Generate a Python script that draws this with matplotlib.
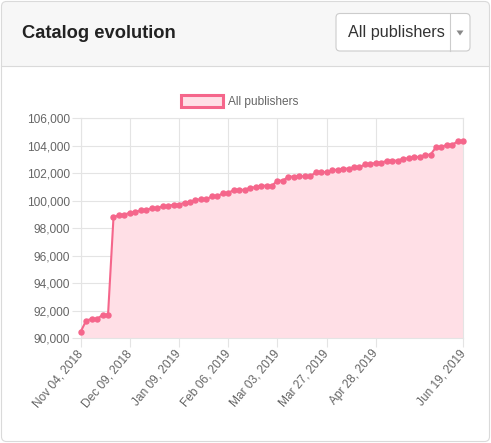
import numpy as np
import matplotlib
matplotlib.use('Agg')
import matplotlib.pyplot as plt
from matplotlib.patches import FancyBboxPatch, Rectangle, Patch, Polygon
from matplotlib.ticker import FuncFormatter

plt.rcParams['font.family'] = ['Liberation Sans', 'DejaVu Sans']

# ─── Data ───
values = [
    90480, 91290, 91410, 91410, 91700, 91700, 98800, 98970, 98990, 99140,
    99160, 99330, 99360, 99450, 99480, 99600, 99620, 99720, 99720, 99870,
    99910, 100080, 100110, 100110, 100330, 100330, 100550, 100570, 100790, 100810,
    100790, 100960, 100980, 101100, 101100, 101100, 101470, 101470, 101760, 101760,
    101780, 101780, 101780, 102070, 102070, 102100, 102220, 102270, 102340, 102340,
    102440, 102440, 102650, 102650, 102780, 102780, 102900, 102920, 102920, 103070,
    103090, 103190, 103190, 103330, 103360, 103890, 103910, 104080, 104080, 104330,
    104350,
]
tick_idx = [0, 9, 18, 27, 36, 45, 54, 70]
tick_labels = ['Nov 04, 2018', 'Dec 09, 2018', 'Jan 09, 2019', 'Feb 06, 2019',
               'Mar 03, 2019', 'Mar 27, 2019', 'Apr 28, 2019', 'Jun 19, 2019']
y_ticks = list(range(90000, 106001, 2000))
series_name = 'All publishers'

colors = {
    'line': '#f5668b', 'fill': '#ffdfe6', 'grid': '#e4e4e4',
    'tick': '#666666', 'header': '#f7f7f7', 'border': '#dadada',
    'title': '#222222', 'text': '#333333',
}

W, H = 491, 443
fig = plt.figure(figsize=(W / 100, H / 100), dpi=100)
fig.patch.set_facecolor('white')

# ─── Card chrome (pixel coordinates) ───
chrome = fig.add_axes([0, 0, 1, 1], zorder=0)
chrome.set_xlim(0, W)
chrome.set_ylim(H, 0)
chrome.axis('off')

chrome.add_patch(FancyBboxPatch((1.5, 1.5), W - 3, H - 3,
                                boxstyle='round,pad=0,rounding_size=5',
                                fc='white', ec='none'))
chrome.add_patch(FancyBboxPatch((1.5, 1.5), W - 3, 75,
                                boxstyle='round,pad=0,rounding_size=5',
                                fc=colors['header'], ec='none'))
chrome.add_patch(Rectangle((1.5, 65.5), W - 3, 20, fc='white', ec='none'))
chrome.plot([1.5, W - 1.5], [65.5, 65.5], color=colors['border'], lw=0.8)
chrome.add_patch(FancyBboxPatch((1.5, 1.5), W - 3, H - 3,
                                boxstyle='round,pad=0,rounding_size=5',
                                fc='none', ec=colors['border'], lw=0.8))

chrome.text(22, 33, 'Catalog evolution', fontsize=13.2, fontweight='bold',
            color=colors['title'], va='center', ha='left')

# dropdown
chrome.add_patch(FancyBboxPatch((336, 13.5), 134, 37.5,
                                boxstyle='round,pad=0,rounding_size=4',
                                fc='white', ec='#cccccc', lw=0.8))
chrome.plot([450, 450], [13.5, 51], color='#cccccc', lw=0.8)
chrome.add_patch(Polygon([[456.5, 30.5], [463.5, 30.5], [460, 35.5]],
                         closed=True, fc='#888888', ec='none'))
chrome.text(348, 32.5, series_name, fontsize=11.6, color=colors['text'],
            va='center', ha='left')

# ─── Chart ───
x0, x1, y0, y1 = 80.7, 463.3, 118.3, 338.3
ax = fig.add_axes([x0 / W, 1 - y1 / H, (x1 - x0) / W, (y1 - y0) / H], zorder=1)
ax.set_facecolor('none')

x = np.arange(len(values))
ax.fill_between(x, values, y_ticks[0], color=colors['fill'], lw=0, zorder=1)
ax.plot(x, values, color=colors['line'], lw=1.5, marker='o', ms=3.6,
        mec=colors['line'], mfc=colors['line'], zorder=3, clip_on=False)

ax.set_xlim(0, len(values) - 1)
ax.set_ylim(y_ticks[0], y_ticks[-1])
ax.set_xticks(tick_idx)
ax.set_xticklabels(tick_labels, rotation=50, ha='right', va='center',
                   rotation_mode='anchor')
ax.set_yticks(y_ticks)
ax.yaxis.set_major_formatter(FuncFormatter(lambda v, p: f'{int(v):,}'))

ax.grid(True, color=colors['grid'], lw=0.8, zorder=0)
ax.set_axisbelow(True)
for s in ax.spines.values():
    s.set_color(colors['grid'])
    s.set_linewidth(0.8)
ax.tick_params(axis='both', colors=colors['grid'], length=6.5, width=0.8,
               labelcolor=colors['tick'], labelsize=8.6)
ax.tick_params(axis='y', pad=1)
ax.tick_params(axis='x', pad=3)

leg = ax.legend(handles=[Patch(facecolor=colors['fill'], edgecolor=colors['line'],
                               lw=2.2, label=series_name)],
                loc='center', bbox_to_anchor=(240 / W, 1 - 101.5 / H),
                bbox_transform=fig.transFigure, frameon=False,
                fontsize=8.6, handlelength=3.5, handleheight=1.2,
                handletextpad=0.45, borderpad=0)
for t in leg.get_texts():
    t.set_color(colors['tick'])

fig.savefig('out.png', dpi=100, facecolor='white')
